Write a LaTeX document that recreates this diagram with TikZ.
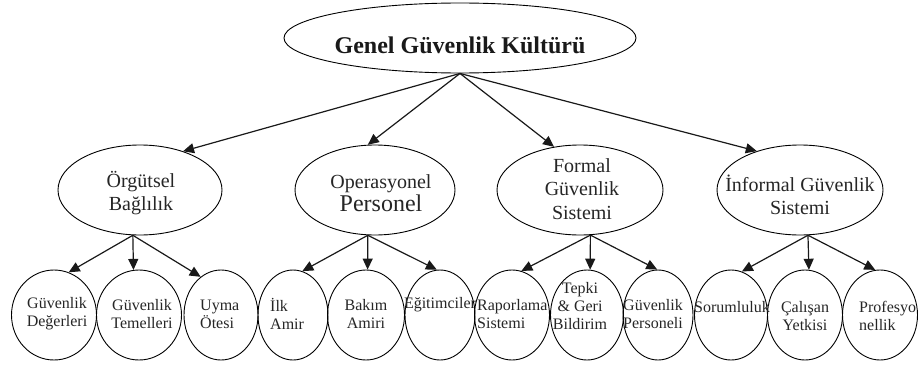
\documentclass[tikz,border=0pt]{standalone}
\usepackage{fontspec}
\setmainfont{Liberation Serif}
\usetikzlibrary{arrows.meta,shapes.geometric}
\tikzset{
  ellbase/.style={ellipse, draw=black, line width=0.9pt, inner sep=0pt},
  ellA/.style={ellbase, minimum width=352pt, minimum height=70pt},
  ellB/.style={ellbase, minimum width=164pt, minimum height=90pt},
  ellC/.style={ellbase, minimum height=90pt},
  txtA/.style={font=\fontsize{24}{28}\selectfont\bfseries, text=black!90, inner sep=0pt},
  txtB/.style={font=\fontsize{20}{23.5}\selectfont, text=black!85, align=center, inner sep=0pt},
  txtC/.style={font=\fontsize{16}{18}\selectfont, text=black!85, align=center, inner sep=0pt},
  txtL/.style={font=\fontsize{16}{18}\selectfont, text=black!85, align=left, inner sep=0pt},
  arr/.style={-{Triangle[length=11pt,width=10pt]}, line width=1.2pt, black!90},
}
\begin{document}
\begin{tikzpicture}[x=1pt,y=-1pt]
\useasboundingbox[fill=white] (0,0) rectangle (918,369);
% top
\node[ellA] (top) at (460,38) {};
\node[txtA] (top-t) at (460,45) {Genel Güvenlik Kültürü};
% level 2
\node[ellB] (org) at (140,190) {};
\node[txtB] (org-t) at (141,193) {Örgütsel\\Bağlılık};
\node[ellB, minimum width=160pt] (op) at (375,190) {};
\node[txtB] (op-t) at (381,193) {Operasyonel\\{\fontsize{24}{24}\selectfont Personel}};
\node[ellB, minimum width=166pt] (fo) at (580,190) {};
\node[txtB] (fo-t) at (582,189) {Formal\\Güvenlik\\Sistemi};
\node[ellB, minimum width=166pt] (inf) at (800,190) {};
\node[txtB] (inf-t) at (800,195) {İnformal Güvenlik\\Sistemi};
% level 3
\node[ellC, minimum width=85pt] (gd) at (54,315) {};
\node[ellC, minimum width=85pt] (gt) at (139,315) {};
\node[ellC, minimum width=74pt] (uo) at (221,315) {};
\node[ellC, minimum width=70pt] (ia) at (293,315) {};
\node[ellC, minimum width=77pt] (ba) at (366,315) {};
\node[ellC, minimum width=70pt] (eg) at (440,315) {};
\node[ellC, minimum width=75pt] (ra) at (512,315) {};
\node[ellC, minimum width=73pt] (tg) at (587,315) {};
\node[ellC, minimum width=70pt] (gp) at (658,315) {};
\node[ellC, minimum width=73pt] (so) at (731,315) {};
\node[ellC, minimum width=75pt] (cy) at (805,315) {};
\node[ellC, minimum width=75pt] (pr) at (880,315) {};
\node[txtC] (gd-t) at (57,314) {Güvenlik\\Değerleri};
\node[txtC] (gt-t) at (142,314) {Güvenlik\\Temelleri};
\node[txtL, anchor=west] (uo-t) at (200,314) {Uyma\\Ötesi};
\node[txtL, anchor=west] (ia-t) at (270,314) {İlk\\Amir};
\node[txtC] (ba-t) at (366,314) {Bakım\\Amiri};
\node[txtC] (eg-t) at (440,305) {Eğitimciler};
\node[txtL, anchor=west] (ra-t) at (477,314) {Raporlama\\Sistemi};
\node[txtC] (tg-t) at (580,306) {Tepki\\\& Geri\\Bildirim};
\node[txtC] (gp-t) at (653,314) {Güvenlik\\Personeli};
\node[txtC] (so-t) at (732,307) {Sorumluluk};
\node[txtC] (cy-t) at (805,316) {Çalışan\\Yetkisi};
\node[txtL, anchor=west] (pr-t) at (859,316) {Profesyo\\nellik};
% arrows level 1
\draw[arr] (top.south) -- (org.42);
\draw[arr] (top.south) -- (op.99);
\draw[arr] (top.south) -- (fo.121);
\draw[arr] (top.south) -- (inf.138);
% arrows level 2
\draw[arr] (org.261) -- (gd.71);
\draw[arr] (org.261) -- (gt.97);
\draw[arr] (org.261) -- (uo.118);
\draw[arr] (op.261) -- (ia.78);
\draw[arr] (op.261) -- (ba.88);
\draw[arr] (op.261) -- (eg.94);
\draw[arr] (fo.283) -- (ra.78);
\draw[arr] (fo.283) -- (tg.86);
\draw[arr] (fo.283) -- (gp.91);
\draw[arr] (inf.280) -- (so.76);
\draw[arr] (inf.280) -- (cy.85);
\draw[arr] (inf.280) -- (pr.96);
\end{tikzpicture}
\end{document}
